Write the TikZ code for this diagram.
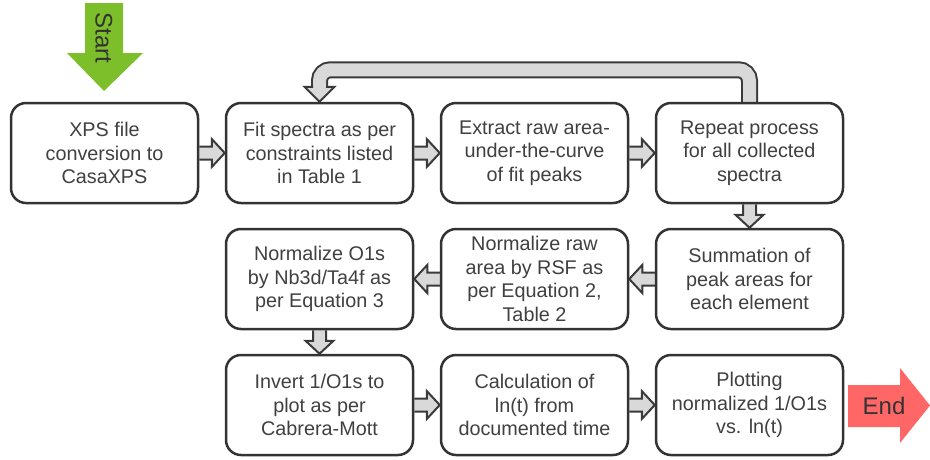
\documentclass[tikz,border=0pt]{standalone}
\usepackage{fontspec}
\setmainfont{Liberation Sans}
\usetikzlibrary{calc,backgrounds}
\definecolor{boxline}{HTML}{333333}
\definecolor{txt}{HTML}{404040}
\definecolor{arrfill}{HTML}{D9D9D9}
\definecolor{arrline}{HTML}{3A3A3A}
\definecolor{startgreen}{HTML}{7CBF2A}
\definecolor{endred}{HTML}{FF6666}
\newcommand\barrR[2]{%
  \draw[blk] ($(#1.east)+(0,-6.5)$) -- ($(#2.west)+(-13,-6.5)$) -- ($(#2.west)+(-13,-14)$) -- (#2.west)
    -- ($(#2.west)+(-13,14)$) -- ($(#2.west)+(-13,6.5)$) -- ($(#1.east)+(0,6.5)$);}
\newcommand\barrL[2]{%
  \draw[blk] ($(#1.west)+(0,-6.5)$) -- ($(#2.east)+(13,-6.5)$) -- ($(#2.east)+(13,-14)$) -- (#2.east)
    -- ($(#2.east)+(13,14)$) -- ($(#2.east)+(13,6.5)$) -- ($(#1.west)+(0,6.5)$);}
\newcommand\barrD[2]{%
  \draw[blk] ($(#1.south)+(-6.5,0)$) -- ($(#2.north)+(-6.5,-13)$) -- ($(#2.north)+(-14,-13)$) -- (#2.north)
    -- ($(#2.north)+(14,-13)$) -- ($(#2.north)+(6.5,-13)$) -- ($(#1.south)+(6.5,0)$);}
\begin{document}
\begin{tikzpicture}[x=1pt,y=-1pt,
  stepbox/.style={draw=boxline, line width=2.5pt, fill=white, rounded corners=15pt,
    minimum width=187pt, minimum height=100pt, inner sep=0pt, align=center, text=txt,
    font=\fontsize{19.8}{23.5}\selectfont},
  blk/.style={draw=arrline, line width=2pt, fill=arrfill, line join=miter},
  bigtxt/.style={text=boxline, font=\fontsize{24}{28}\selectfont, inner sep=0pt}]
\useasboundingbox (0,0) rectangle (930,459);

% row 1
\node[stepbox] (b1) at (104.5,153) {XPS file\\conversion to\\CasaXPS};
\node[stepbox] (b2) at (319.5,153) {Fit spectra as per\\constraints listed\\in Table 1};
\node[stepbox] (b3) at (534.5,153) {Extract raw area-\\under-the-curve\\of fit peaks};
\node[stepbox] (b4) at (749.5,153) {Repeat process\\for all collected\\spectra};
% row 2
\node[stepbox] (b5) at (749.5,279) {Summation of\\peak areas for\\each element};
\node[stepbox] (b6) at (534.5,279) {Normalize raw\\area by RSF as\\per Equation 2,\\Table 2};
\node[stepbox] (b7) at (319.5,279) {Normalize O1s\\by Nb3d/Ta4f as\\per Equation 3};
% row 3
\node[stepbox] (b8) at (319.5,405) {Invert 1/O1s to\\plot as per\\Cabrera-Mott};
\node[stepbox] (b9) at (534.5,405) {Calculation of\\ln(t) from\\documented time};
\node[stepbox] (b10) at (749.5,405) {Plotting\\normalized 1/O1s\\vs. ln(t)};

\begin{scope}[on background layer]
  \barrR{b1}{b2}
  \barrR{b2}{b3}
  \barrR{b3}{b4}
  \barrD{b4}{b5}
  \barrL{b5}{b6}
  \barrL{b6}{b7}
  \barrD{b7}{b8}
  \barrR{b8}{b9}
  \barrR{b9}{b10}
  % feedback loop
  \draw[arrline, line width=17pt, rounded corners=11pt]
    (b4.north) -- ($(b4.north)+(0,-32)$) -| ($(b2.north)+(0,-13)$);
  \draw[arrfill, line width=13pt, rounded corners=11pt]
    ($(b4.north)+(0,2)$) -- ($(b4.north)+(0,-32)$) -| ($(b2.north)+(0,-13)$);
  \fill[arrfill] ($(b2.north)+(-15,-15)$) -- (b2.north) -- ($(b2.north)+(15,-15)$) -- cycle;
  \draw[arrline, line width=2pt, line join=miter]
    ($(b2.north)+(-6.5,-15)$) -- ($(b2.north)+(-15,-15)$) -- (b2.north)
    -- ($(b2.north)+(15,-15)$) -- ($(b2.north)+(6.5,-15)$);
\end{scope}

% start arrow
\fill[startgreen] (85,3) -- (123,3) -- (123,53) -- (143,53) -- (104,91) -- (67,53) -- (85,53) -- cycle;
\node[bigtxt, rotate=-90] (start) at (104,38) {Start};
% end arrow
\fill[endred] (848,385) -- (900,385) -- (900,368) -- (930,405.5) -- (900,443) -- (900,427) -- (848,427) -- cycle;
\node[bigtxt] (end) at (884,406) {End};
\end{tikzpicture}
\end{document}
